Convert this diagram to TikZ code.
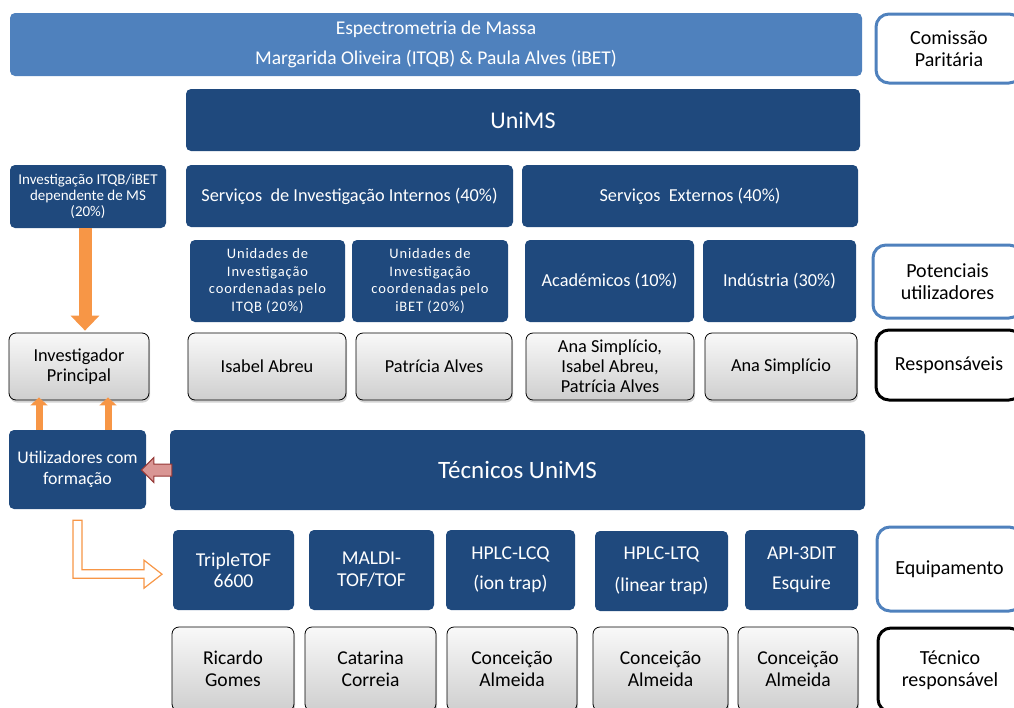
\documentclass[tikz,border=0pt]{standalone}
\usepackage{fontspec}
\setmainfont{Carlito}
\usetikzlibrary{arrows.meta,calc,shadows}
\definecolor{unidark}{HTML}{1F497D}
\definecolor{unimid}{HTML}{4F81BD}
\definecolor{uniorange}{HTML}{F79646}
\definecolor{backfill}{HTML}{D99694}
\definecolor{backline}{HTML}{953735}

\begin{document}
\begin{tikzpicture}[x=1pt,y=-1pt,
    box/.style={rectangle,rounded corners=5pt,align=center,inner sep=2pt},
    bluebox/.style={box,fill=unidark,text=white,font=\fontsize{18.3}{21}\selectfont},
    unitbox/.style={bluebox,minimum height=82pt,font=\fontsize{14.5}{17.5}\selectfont\addfontfeature{LetterSpace=6}},
    greybox/.style={box,rounded corners=7pt,draw=black,line width=0.8pt,top color=gray!5,bottom color=gray!38,
      drop shadow={opacity=0.35,shadow xshift=1pt,shadow yshift=-2.5pt},font=\fontsize{18.3}{20}\selectfont},
    sidebox/.style={box,rounded corners=13pt,line width=3pt,fill=white,font=\fontsize{20}{22.5}\selectfont},
    thickarrow/.style={draw=uniorange,line width=13pt,-{Triangle[width=28pt,length=15pt]}},
    thinarrow/.style={draw=uniorange,line width=7pt,-{Triangle[width=17pt,length=8pt]}}]

  \useasboundingbox (0,0) rectangle (1014,707);

  % comissao e UniMS
  \node[box,fill=unimid,text=white,minimum width=852pt,minimum height=63pt,font=\fontsize{19.5}{20}\selectfont] (massa) at (436,44.5)
    {Espectrometria de Massa\\[10pt]Margarida Oliveira (ITQB) \& Paula Alves (iBET)};
  \node[sidebox,draw=unimid,minimum width=146pt,minimum height=69pt] (comissao) at (949,48.5) {Comissão\\Paritária};
  \node[bluebox,minimum width=674pt,minimum height=62pt,font=\fontsize{24}{28}\selectfont] (unims) at (523,120) {UniMS};

  % servicos
  \node[bluebox,minimum width=156pt,minimum height=63pt,font=\fontsize{15}{16}\selectfont] (invest) at (88,196.5)
    {Investigação ITQB/iBET\\dependente de MS\\(20\%)};
  \node[bluebox,minimum width=327pt,minimum height=62pt] (internos) at (349.5,196) {Serviços~ de Investigação Internos (40\%)};
  \node[bluebox,minimum width=336pt,minimum height=62pt] (externos) at (690,196) {Serviços~ Externos (40\%)};

  % potenciais utilizadores
  \node[unitbox,minimum width=155pt] (unitqb) at (267.5,281) {Unidades de\\Investigação\\coordenadas pelo\\ITQB (20\%)};
  \node[unitbox,minimum width=156pt] (unibet) at (430,281) {Unidades de\\Investigação\\coordenadas pelo\\iBET (20\%)};
  \node[bluebox,minimum width=169pt,minimum height=82pt] (academicos) at (609.5,281) {Académicos (10\%)};
  \node[bluebox,minimum width=153pt,minimum height=82pt] (industria) at (779.5,281) {Indústria (30\%)};
  \node[sidebox,draw=unimid,minimum width=149pt,minimum height=73pt] (potenciais) at (947.5,281.5) {Potenciais\\utilizadores};

  % responsaveis
  \node[greybox,minimum width=140pt,minimum height=67pt] (ip) at (79,366.5) {Investigador\\Principal};
  \node[greybox,minimum width=158pt,minimum height=67pt] (isabel) at (267,366.5) {Isabel Abreu};
  \node[greybox,minimum width=156pt,minimum height=67pt] (patricia) at (434,366.5) {Patrícia Alves};
  \node[greybox,minimum width=168pt,minimum height=67pt] (anatres) at (610,366.5) {Ana Simplício,\\Isabel Abreu,\\Patrícia Alves};
  \node[greybox,minimum width=152pt,minimum height=67pt] (ana) at (781,366.5) {Ana Simplício};
  \node[sidebox,draw=black,minimum width=146pt,minimum height=70pt] (responsaveis) at (949,365) {Responsáveis};

  % tecnicos
  \node[bluebox,minimum width=137pt,minimum height=79pt,font=\fontsize{17.8}{21}\selectfont] (utiliz) at (77.5,469.5) {Utilizadores com\\formação};
  \node[bluebox,minimum width=695pt,minimum height=80pt,font=\fontsize{25}{29}\selectfont] (tecnicos) at (517.5,470) {Técnicos UniMS};

  % equipamento
  \node[bluebox,minimum width=121pt,minimum height=80pt,font=\fontsize{19.6}{21}\selectfont] (triple) at (233.5,570) {TripleTOF\\6600};
  \node[bluebox,minimum width=125pt,minimum height=80pt,font=\fontsize{19.6}{22}\selectfont] (maldi) at (371.5,570) {MALDI-\\TOF/TOF};
  \node[bluebox,minimum width=129pt,minimum height=80pt,font=\fontsize{19.6}{30}\selectfont] (lcq) at (510.5,570) {HPLC-LCQ\\(ion trap)};
  \node[bluebox,minimum width=133pt,minimum height=80pt,font=\fontsize{19.6}{32}\selectfont] (ltq) at (661.5,571) {HPLC-LTQ\\(linear trap)};
  \node[bluebox,minimum width=113pt,minimum height=80pt,font=\fontsize{19.6}{30}\selectfont] (api) at (801.5,570) {API-3DIT\\Esquire};
  \node[sidebox,draw=unimid,minimum width=145pt,minimum height=84pt] (equip) at (949.5,569) {Equipamento};

  % tecnico responsavel
  \node[greybox,minimum width=122pt,minimum height=84pt,font=\fontsize{19.6}{22}\selectfont] (ricardo) at (233,669) {Ricardo\\Gomes};
  \node[greybox,minimum width=131pt,minimum height=84pt,font=\fontsize{19.6}{22}\selectfont] (catarina) at (370.5,669) {Catarina\\Correia};
  \node[greybox,minimum width=130pt,minimum height=84pt,font=\fontsize{19.6}{22}\selectfont] (concum) at (512,669) {Conceição\\Almeida};
  \node[greybox,minimum width=135pt,minimum height=84pt,font=\fontsize{19.6}{22}\selectfont] (concdois) at (660.5,669) {Conceição\\Almeida};
  \node[greybox,minimum width=120pt,minimum height=84pt,font=\fontsize{19.6}{22}\selectfont] (conctres) at (798,669) {Conceição\\Almeida};
  \node[sidebox,draw=black,minimum width=144pt,minimum height=84pt] (tecresp) at (950,670) {Técnico\\responsável};

  % setas
  \draw[thickarrow,shorten >=2pt] ($(invest.south)+(-3,0)$) -- ($(ip.north)+(6,0)$);
  \draw[thinarrow,shorten >=-3pt] ($(utiliz.north)+(-38.5,0)$) -- ($(ip.south)+(-40,0)$);
  \draw[thinarrow,shorten >=-3pt] ($(utiliz.north)+(30.5,0)$) -- ($(ip.south)+(29,0)$);
  \draw[fill=backfill,draw=backline,line width=1pt] (tecnicos.west) ++(2,-6) -- ++(-18,0) -- ++(0,-6.5)
    -- ++(-12.5,12.5) -- ++(12.5,12.5) -- ++(0,-6.5) -- ++(18,0) -- cycle;
  \draw[draw=uniorange,line width=1.2pt,fill=white] ($(utiliz.south)+(-4.5,11)$) -- ++(9,0) -- ++(0,49.5) -- ++(62,0)
    -- ++(0,-9.5) -- ++(18,14) -- ++(-18,14) -- ++(0,-10) -- ++(-71,0) -- cycle;
\end{tikzpicture}
\end{document}
